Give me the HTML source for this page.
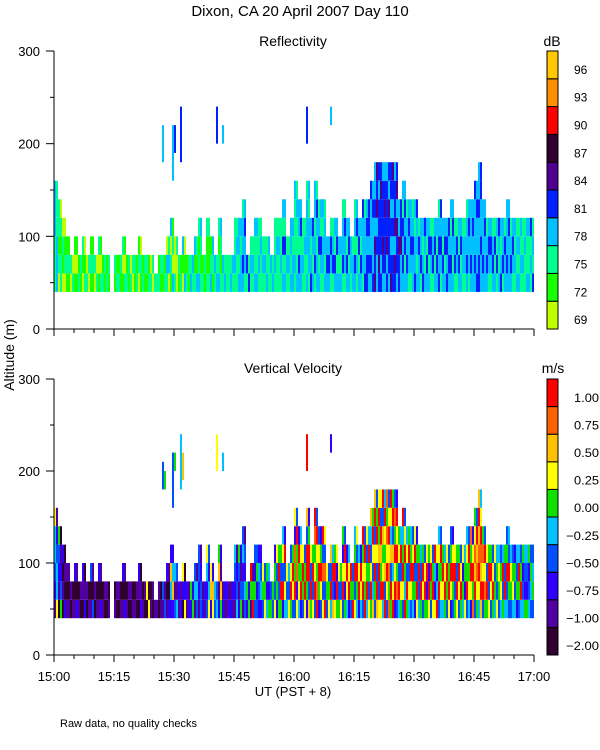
<!DOCTYPE html>
<html><head><meta charset="utf-8"><style>
html,body{margin:0;padding:0;background:#fff}
svg{display:block;font-family:"Liberation Sans",sans-serif}
</style></head><body>
<svg id="c" width="600" height="750">
<text x="300" y="16" text-anchor="middle" font-size="15">Dixon, CA 20 April 2007  Day 110</text>
<text x="293" y="46" text-anchor="middle" font-size="14">Reflectivity</text>
<text x="293" y="373" text-anchor="middle" font-size="14">Vertical Velocity</text>
<text x="552" y="46" text-anchor="middle" font-size="14">dB</text>
<text x="553" y="373" text-anchor="middle" font-size="14">m/s</text>
<text transform="translate(14,355) rotate(-90)" text-anchor="middle" font-size="14">Altitude (m)</text>
<text x="293" y="696" text-anchor="middle" font-size="13">UT  (PST + 8)</text>
<text x="60" y="727" font-size="11">Raw data, no quality checks</text>
</svg>
<script>
const xTickLabels=["15:00","15:15","15:30","15:45","16:00","16:15","16:30","16:45","17:00"];
const yTicks=[0,100,200,300];
const dbLabels=["69","72","75","78","81","84","87","90","93","96"];
const velLabels=["-2.00","-1.00","-0.75","-0.50","-0.25","0.00","0.25","0.50","0.75","1.00"];
const reflColors=["#c0ff00","#18ff00","#00ff90","#00c0ff","#0020ff","#500090","#300030","#ff0000","#ff9000","#ffc800"];
const velColors=["#300030","#5000a0","#3000ff","#0050ff","#00c0ff","#10e000","#ffff00","#ffc000","#ff6000","#ff0000"];
// per-minute gate levels (gates of 20 m starting at 40 m)
const reflCols=["222333","02122","0120","121","02","101","21","012","20","121","02","102","21","21","","12","21","102","21","20","12","021","21","12","20","2","21","12","230","1203","200","12","013","21","32","213","3212","21","2112","321","23","3212","23","22","32","2322","3233","34332","24","232","3223","2322","232","322","23","2322","2232","32423","232","3233","232223","34233","2322","323332","4323","243233","32432","23323","343","2342","3423","323","24332","3423","233","34232","3243","23334","44343","343334","5453433","4544434","3454443","4354443","5434344","4535443","44533","343423","34332","23433","43323","3342","4323","3423","2342","3243","43432","3423","4343","34323","2432","3423","2332","34332","34333","343334","4433433","34333","3432","2343","3242","3234","2433","34333","3432","2323","3232","2322","3223","2324"];
const velCols=["123446","01235","0102","101","01","102","10","012","01","103","01","102","10","01","","10","01","102","10","01","10","012","10","06","10","1","01","13","102","2472","314","12","026","12","25","143","1233","21","3246","276","34","2175","21","12","21","1234","2135","13243","25","159","3523","2342","356","425","53","6352","5395","29364","436","5963","395826","46592","3596","259937","5936","396589","25963","63839","356","4937","6295","536","39625","4692","359","63954","2964","39659","49536","596347","3596397","6397596","4965739","3696858","5937469","2969583","49365","369549","59364","36954","25396","4395","3695","5296","3596","6249","39564","4695","3596","26953","5396","3695","4526","39564","26958","397865","4698797","39685","5936","3695","4536","3564","5394","43953","3564","4352","3594","4325","5234","3453"];
// elevated echoes: [minute, bottom m, top m, level]
const reflElev=[[27,180,220,3],[29.5,160,220,3],[30,190,220,4],[31.5,180,240,4],[40.5,200,240,4],[42,200,220,3],[63,200,240,4],[69,220,240,3]];
const velElev=[[27,180,210,3],[27.5,180,200,5],[29.5,160,220,3],[30,200,220,5],[31.5,180,240,4],[32,190,220,7],[40.5,200,240,6],[42,200,220,4],[63,200,240,9],[69,220,240,2]];

const svg=document.getElementById('c');
const NS='http://www.w3.org/2000/svg';
function mk(tag,attrs){const e=document.createElementNS(NS,tag);for(const k in attrs)e.setAttribute(k,attrs[k]);svg.appendChild(e);return e;}
const X0=54,X1=534;
function xs(min){return X0+min*(X1-X0)/120;}
const panels=[{top:51,bot:329,cols:reflCols,elev:reflElev,colors:reflColors,labels:dbLabels,name:'reflectivity'},
              {top:379,bot:655,cols:velCols,elev:velElev,colors:velColors,labels:velLabels,name:'velocity'}];
panels.forEach(function(p,pi){
  const ys=function(a){return p.bot-a*(p.bot-p.top)/300;};
  p.cols.forEach(function(s,i){
    const halves=[s, s.split('').reverse().join('')];
    halves.forEach(function(str,hi){
      const xa=xs(i+hi*0.5), w=xs(i+0.5)-xs(i);
      for(let g=0;g<str.length;g++){
        const lv=+str[g];
        const r=mk('rect',{x:xa,y:ys(60+20*g),width:w,height:ys(40+20*g)-ys(60+20*g),fill:p.colors[lv]});
        
        
      }
    });
  });
  p.elev.forEach(function(e){
    const r=mk('rect',{x:xs(e[0]),y:ys(e[2]),width:2,height:ys(e[1])-ys(e[2]),fill:p.colors[e[3]]});
    
    
  });
  const ax=mk('path',{d:'M'+X0+','+p.top+'V'+p.bot+'H'+X1,stroke:'#000',fill:'none','stroke-width':1});
  
  
  for(let m=0;m<=120;m+=5){
    const t=mk('line',{x1:xs(m),x2:xs(m),y1:p.bot,y2:p.bot+(m%15===0?7:4),stroke:'#000'});
    
    
  }
  for(let a=0;a<=300;a+=50){
    const t=mk('line',{x1:X0-(a%100===0?8:4),x2:X0,y1:ys(a),y2:ys(a),stroke:'#000'});
    
    
  }
  yTicks.forEach(function(v){
    const t=mk('text',{x:40,y:ys(v)+5,'text-anchor':'end','font-size':13});
    t.textContent=v;
    
    
  });
  if(pi===1){
    xTickLabels.forEach(function(l,i){
      const t=mk('text',{x:xs(i*15),y:681,'text-anchor':'middle','font-size':13});
      t.textContent=l;
      
      
    });
  }
  const h=(p.bot-p.top)/10;
  for(let k=0;k<10;k++){
    const y=p.bot-(k+1)*h;
    const r=mk('rect',{x:547,y:y,width:11,height:h,fill:p.colors[k],stroke:'#000','stroke-width':1});
    
    
    const lab=p.labels[k];
    const attrs={x:lab[0]==='-'?566:574,y:y+h/2+9,'font-size':12};
    if(lab.length>2){attrs.textLength=lab[0]==='-'?33:25;attrs.lengthAdjust='spacingAndGlyphs';}
    const t=mk('text',attrs);
    t.textContent=lab.replace('-','\u2212');
    
    
  }
});
</script>
</body></html>
